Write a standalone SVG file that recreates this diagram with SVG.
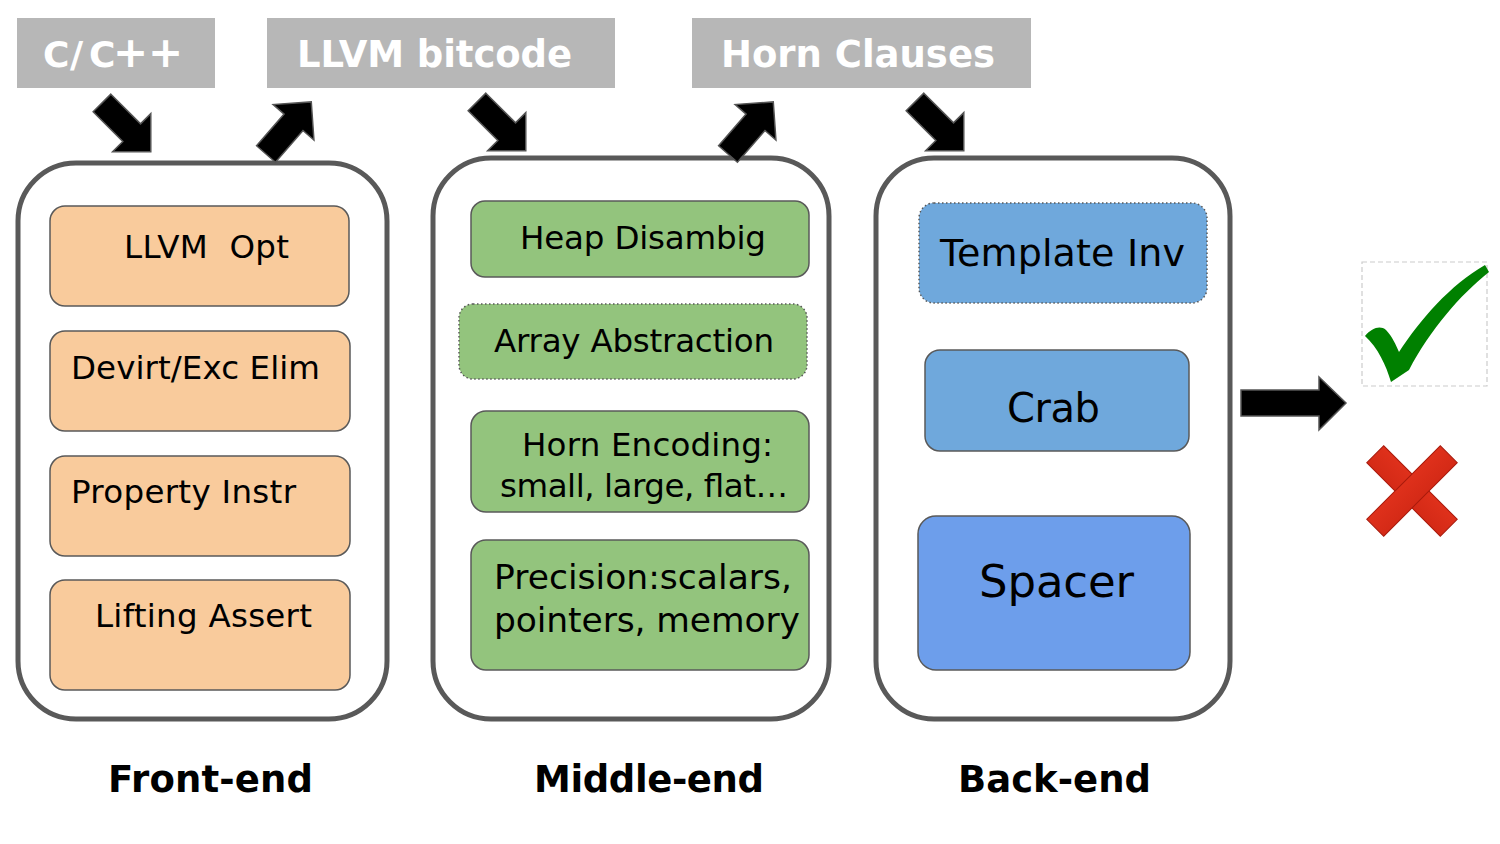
<svg xmlns="http://www.w3.org/2000/svg" width="1500" height="844" viewBox="0 0 1500 844">
<style>
.hdr{fill:#b7b7b7}
.hdrt{font-family:"DejaVu Sans",Verdana,sans-serif;font-weight:bold;font-size:37px;fill:#fff}
.cont{fill:#fff;stroke:#595959;stroke-width:5}
.box{stroke:#595959;stroke-width:1.5}
.dot{stroke:#595959;stroke-width:1.5;stroke-dasharray:1.5 2.5}
.fe{fill:#f9cb9c}
.me{fill:#93c47d}
.be{fill:#6fa8dc}
.sp{fill:#6d9eeb}
.t{font-family:"DejaVu Sans",Verdana,sans-serif;font-size:32.5px;fill:#000}
.lbl{font-family:"DejaVu Sans",Verdana,sans-serif;font-weight:bold;font-size:37px;fill:#000}
.arr{fill:#000;stroke:#555;stroke-width:1.5}
</style>
<defs>
<path id="blk" d="M0,-12.5 L42,-12.5 L42,-27 L69,0 L42,27 L42,12.5 L0,12.5 Z"/>
<linearGradient id="red" x1="0" y1="447" x2="0" y2="537" gradientUnits="userSpaceOnUse">
<stop offset="0" stop-color="#ee3a22"/>
<stop offset="1" stop-color="#c4200f"/>
</linearGradient>
</defs>

<g id="hdr-c">
<rect class="hdr" x="17" y="18" width="198" height="70"/>
<text class="hdrt" x="43 70 89" y="67" style="font-size:36px">C/C<tspan x="113 148" style="font-size:42px">++</tspan></text>
</g>
<g id="hdr-llvm">
<rect class="hdr" x="267" y="18" width="348" height="70"/>
<text class="hdrt" x="297" y="67" textLength="275" lengthAdjust="spacing">LLVM bitcode</text>
</g>
<g id="hdr-horn">
<rect class="hdr" x="692" y="18" width="339" height="70"/>
<text class="hdrt" x="721" y="67" textLength="274" lengthAdjust="spacing">Horn Clauses</text>
</g>

<g id="front-end">
<rect class="cont" x="18" y="163" width="369" height="556" rx="58"/>
<g id="llvm-opt"><rect class="box fe" x="50" y="206" width="299" height="100" rx="15"/>
<text class="t" x="124" y="258" xml:space="preserve" textLength="165" lengthAdjust="spacing">LLVM  Opt</text></g>
<g id="devirt"><rect class="box fe" x="50" y="331" width="300" height="100" rx="15"/>
<text class="t" x="71" y="379" textLength="249" lengthAdjust="spacing">Devirt/Exc Elim</text></g>
<g id="prop-instr"><rect class="box fe" x="50" y="456" width="300" height="100" rx="15"/>
<text class="t" x="71" y="503" textLength="225" lengthAdjust="spacing">Property Instr</text></g>
<g id="lifting"><rect class="box fe" x="50" y="580" width="300" height="110" rx="15"/>
<text class="t" x="95" y="627" textLength="217" lengthAdjust="spacing">Lifting Assert</text></g>
<text class="lbl" x="108" y="792" textLength="205" lengthAdjust="spacing">Front-end</text>
</g>

<g id="middle-end">
<rect class="cont" x="433" y="158" width="396" height="561" rx="58"/>
<g id="heap"><rect class="box me" x="471" y="201" width="338" height="76" rx="14"/>
<text class="t" x="520" y="249" textLength="246" lengthAdjust="spacing">Heap Disambig</text></g>
<g id="array"><rect class="dot me" x="459" y="304" width="348" height="75" rx="14"/>
<text class="t" x="494" y="352" textLength="280" lengthAdjust="spacing">Array Abstraction</text></g>
<g id="horn-enc"><rect class="box me" x="471" y="411" width="338" height="101" rx="15"/>
<text class="t" x="522" y="456" textLength="251" lengthAdjust="spacing">Horn Encoding:</text>
<text class="t" x="500" y="497" textLength="288" lengthAdjust="spacing">small, large, flat…</text></g>
<g id="precision"><rect class="box me" x="471" y="540" width="338" height="130" rx="15"/>
<text class="t" x="494" y="589" style="font-size:34.5px" textLength="298" lengthAdjust="spacing">Precision:scalars,</text>
<text class="t" x="494" y="632" style="font-size:34.5px" textLength="306" lengthAdjust="spacing">pointers, memory</text></g>
<text class="lbl" x="534" y="792" textLength="230" lengthAdjust="spacing">Middle-end</text>
</g>

<g id="back-end">
<rect class="cont" x="876" y="158" width="354" height="561" rx="58"/>
<g id="template"><rect class="dot be" x="919" y="203" width="288" height="100" rx="15"/>
<text class="t" x="940" y="266" style="font-size:38px" textLength="245" lengthAdjust="spacing">Template Inv</text></g>
<g id="crab"><rect class="box be" x="925" y="350" width="264" height="101" rx="15"/>
<text class="t" x="1007" y="422" style="font-size:40px" textLength="93" lengthAdjust="spacing">Crab</text></g>
<g id="spacer"><rect class="box sp" x="918" y="516" width="272" height="154" rx="18"/>
<text class="t" x="979" y="597" style="font-size:45px" textLength="155" lengthAdjust="spacing">Spacer</text></g>
<text class="lbl" x="958" y="792" textLength="193" lengthAdjust="spacing">Back-end</text>
</g>

<g id="result">
<rect x="1362" y="262" width="125" height="124" fill="none" stroke="#cccccc" stroke-width="1.2" stroke-dasharray="5 3"/>
<path d="M1365,336 C1372,328 1380,325 1386,330 C1392,336 1396,345 1399,352 C1420,320 1450,285 1485,265 L1489,272 C1460,295 1430,330 1409,370 L1391,382 C1386,365 1378,348 1365,336 Z" fill="#008000"/>
<g fill="url(#red)" stroke="#a81a0c" stroke-width="1">
<rect x="1360" y="479" width="104" height="24" transform="rotate(45 1412 491)"/>
<rect x="1360" y="479" width="104" height="24" transform="rotate(-45 1412 491)"/>
</g>
</g>

<g id="connectors">
<use href="#blk" class="arr" transform="translate(102,103) rotate(45)"/>
<use href="#blk" class="arr" transform="translate(266,154) rotate(-49)"/>
<use href="#blk" class="arr" transform="translate(477,102) rotate(45)"/>
<use href="#blk" class="arr" transform="translate(728,154) rotate(-49)"/>
<use href="#blk" class="arr" transform="translate(915,102) rotate(45)"/>
<path class="arr" d="M1241,390 L1319,390 L1319,377 L1346,403 L1319,430 L1319,416 L1241,416 Z"/>
</g>
</svg>
